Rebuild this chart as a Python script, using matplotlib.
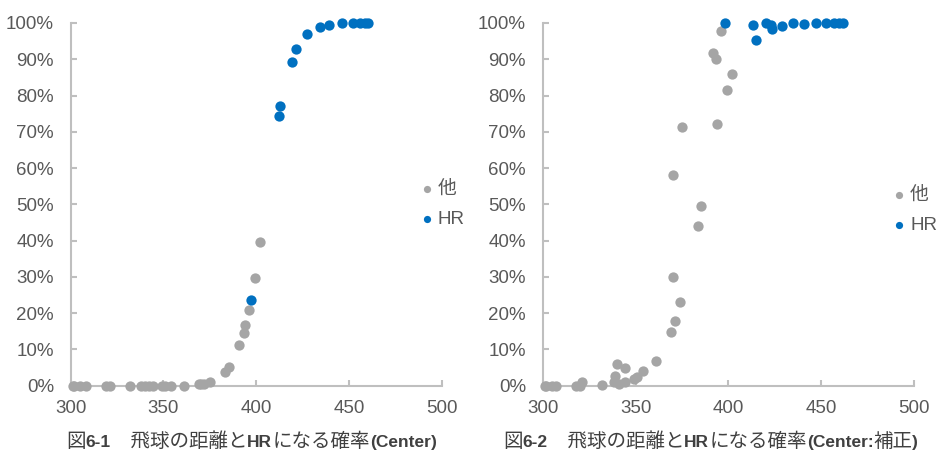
import matplotlib.pyplot as plt
from matplotlib.ticker import PercentFormatter

# 図6-1 (Center)
l_other_x = [301, 302, 305, 308, 319, 321, 332, 338, 340, 342, 344.5, 349, 351, 354, 361,
             369, 370.5, 372, 375, 383, 385.5, 391, 393.3, 394, 396, 399.4, 402]
l_other_y = [0, 0, 0, 0, 0, 0, 0, 0, 0, 0, 0, 0, 0, 0, 0,
             0.5, 0.5, 0.6, 1.1, 3.7, 5.1, 11.2, 14.4, 16.7, 21, 29.6, 39.6]
l_hr_x = [397, 412.2, 413.1, 419.2, 421.7, 427.6, 434.2, 439.3, 446, 452, 456, 458.5, 460.5]
l_hr_y = [23.6, 74.4, 77.1, 89.2, 92.8, 97, 99, 99.4, 100, 100, 100, 100, 100]

# 図6-2 (Center:補正)
r_other_x = [301, 302, 305, 307, 318, 320, 321, 332, 338.4, 339, 340, 341, 344.3, 344.5,
             349.2, 351, 354, 361, 369, 371.3, 374, 370.3, 383.4, 385.3, 370.3, 374.9,
             393.9, 399.3, 402, 391.6, 393.2, 396.3]
r_other_y = [0, 0, 0, 0, 0, 0, 1, 0.3, 0.9, 2.8, 6, 0.5, 0.9, 5,
             1.8, 2.5, 4.1, 6.8, 14.8, 17.8, 23.1, 30, 44, 49.5, 58.1, 71.3,
             72.1, 81.5, 86, 91.8, 90, 97.8]
r_hr_x = [398.4, 413.4, 414.7, 420.4, 422.9, 423.3, 429, 435, 440.5, 447.3, 452.8, 457, 459.6, 461.8]
r_hr_y = [100, 99.4, 95.3, 100, 99.4, 98.3, 99.2, 100, 99.7, 100, 100, 100, 100, 100]

# caption pieces: (text, latin bold?)
caption1 = [('図', False), ('6-1', True), ('　飛球の距離と', False), ('HR', True),
            ('になる確率', False), ('(Center', True), (')', True)]
caption2 = [('図', False), ('6-2', True), ('　飛球の距離と', False), ('HR', True),
            ('になる確率', False), ('(Center:', True), ('補正', False), (')', True)]

gray = '#A5A5A5'
blue = '#0070C0'
text_col = '#595959'
axis_col = '#BFBFBF'

plt.rcParams['font.family'] = ['Liberation Sans', 'Noto Sans CJK JP']

fig = plt.figure(figsize=(9.45, 4.73), dpi=100)
ax1 = fig.add_axes([0.0748, 0.1846, 0.3926, 0.7668])
ax2 = fig.add_axes([0.5743, 0.1846, 0.3929, 0.7668])

data = [(ax1, l_other_x, l_other_y, l_hr_x, l_hr_y, (0.939, 0.50)),
        (ax2, r_other_x, r_other_y, r_hr_x, r_hr_y, (0.939, 0.483))]

for ax, ox, oy, hx, hy, leg_pos in data:
    ax.scatter(ox, oy, s=55, color=gray, label='他', clip_on=False, zorder=3, linewidths=0)
    ax.scatter(hx, hy, s=55, color=blue, label='HR', clip_on=False, zorder=3, linewidths=0)
    ax.set_xlim(300, 500)
    ax.set_ylim(0, 100)
    ax.set_xticks([300, 350, 400, 450, 500])
    ax.set_yticks(range(0, 101, 10))
    ax.yaxis.set_major_formatter(PercentFormatter(decimals=0))
    for s in ['top', 'right']:
        ax.spines[s].set_visible(False)
    for s in ['left', 'bottom']:
        ax.spines[s].set_color(axis_col)
        ax.spines[s].set_linewidth(1.5)
    ax.tick_params(direction='in', length=4.5, width=1.5, color=axis_col,
                   labelsize=13.5, labelcolor=text_col)
    ax.tick_params(axis='x', pad=10)
    ax.tick_params(axis='y', pad=12)
    leg = ax.legend(loc='center left', bbox_to_anchor=leg_pos, frameon=False,
                    fontsize=13.5, handletextpad=0.2, labelspacing=0.7,
                    markerscale=0.7, handlelength=0.8, borderaxespad=0, borderpad=0)
    for t in leg.get_texts():
        t.set_color(text_col)


def caption(x, y, parts):
    r = fig.canvas.get_renderer()
    for s, bold in parts:
        if bold:
            t = fig.text(x, y, s, fontsize=12.5, fontweight='bold', color='#404040',
                         family=['Liberation Sans', 'Noto Sans CJK JP'], va='baseline')
        else:
            t = fig.text(x, y, s, fontsize=14, color='#404040',
                         family=['Noto Sans CJK JP', 'DejaVu Sans'], va='baseline')
        x += t.get_window_extent(r).width / fig.bbox.width


caption(66 / 945, 26 / 473, caption1)
caption(503 / 945, 26 / 473, caption2)

fig.savefig('out.png', dpi=100)
